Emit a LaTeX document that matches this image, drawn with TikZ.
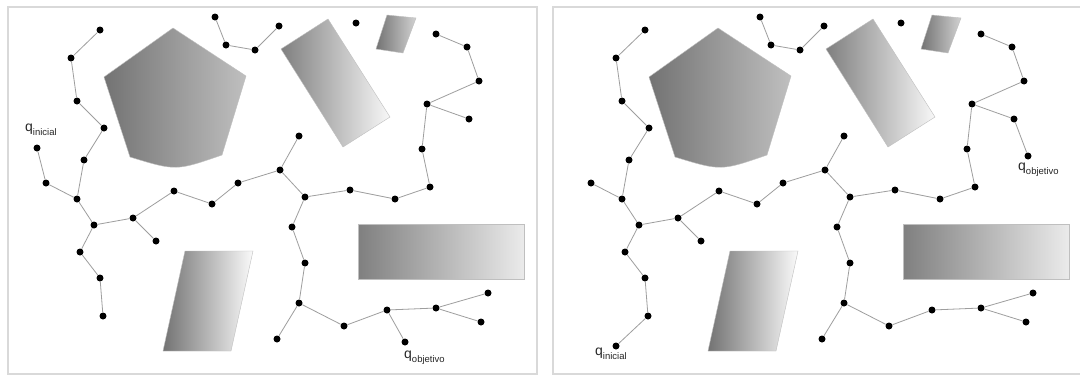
\documentclass[tikz,border=0pt]{standalone}
\usepackage{fontspec}
\setmainfont{Liberation Sans}
\newcommand\drawobstacles{%
  \shade[obst,left color=black!55,right color=black!25]
    (173,28) -- (246,76) -- (222,155) .. controls (176,171) .. (130,157) -- (104,77) -- cycle;
  \shade[obst,left color=black!50,right color=black!3]
    (281,49) -- (328,19) -- (390,117) -- (343,147) -- cycle;
  \shade[obst,left color=black!55,right color=black!18]
    (387,15) -- (416,18) -- (403,53) -- (376,49) -- cycle;
  \shade[obst,left color=black!55,right color=black!2]
    (185,251) -- (253,251) -- (231,351) -- (163,351) -- cycle;
  \shade[obst,left color=black!50,right color=black!8]
    (358,224) rectangle (524,279);
}
\newcommand\drawtree{%
  \foreach \n/\x/\y in {a1/100/30, a2/71/58, a3/77/101, a4/104/128, a5/84/160, a7/46/183,
     b1/77/199, b2/94/225, b3/133/218, b4/156/241, b5/80/252, b6/174/191, b7/212/204,
     b8/238/183, b9/280/170, b10/299/136, e1/100/278, e2/103/316,
     t1/215/17, t2/226/45, t3/255/50, t4/279/26, iso/356/23,
     c1/305/197, c2/350/190, c3/395/199, c4/430/187, c5/422/149,
     d1/436/34, d2/467/47, d3/479/81, d4/427/104, d5/469/119,
     c6/292/227, c7/305/263, c8/299/303, c9/277/339, c10/344/326, c11/387/310,
     c13/436/308, c14/488/293, c15/481/322}
     {\node[dot] (\n) at (\x,\y) {};}
  \foreach \u/\v in {a1/a2, a2/a3, a3/a4, a4/a5, a5/b1, a7/b1, b1/b2, b2/b3, b3/b4,
     b3/b6, b6/b7, b7/b8, b8/b9, b9/b10, b9/c1, b2/b5, b5/e1, e1/e2,
     t1/t2, t2/t3, t3/t4, c1/c2, c2/c3, c3/c4, c4/c5, c5/d4, d4/d3, d3/d2, d2/d1,
     d4/d5, c1/c6, c6/c7, c7/c8, c8/c9, c8/c10, c10/c11, c11/c13, c13/c14, c13/c15}
     {\draw[edge] (\u) -- (\v);}
}
\newcommand\qlabel[1]{{\fontsize{14}{14}\selectfont q}\raisebox{-4pt}{\fontsize{9.5}{9.5}\selectfont #1}}
\begin{document}
\begin{tikzpicture}[x=1pt,y=-1pt,
  dot/.style={circle,fill=black,inner sep=0pt,minimum size=7pt},
  edge/.style={draw=black!38,line width=0.8pt},
  frame/.style={draw=black!15,line width=1.5pt},
  obst/.style={draw=black!25,line width=0.4pt},
  lbl/.style={inner sep=0pt,anchor=base west,text=black!85}]
\useasboundingbox[fill=white] (0,0) rectangle (1080,378);
% left panel
\begin{scope}[name prefix=L-]
  \draw[frame] (8,7) rectangle (537,374);
  \drawobstacles
  \drawtree
  \node[dot] (a6) at (37,148) {};
  \node[dot] (c12) at (405,342) {};
  \draw[edge] (a6) -- (a7);
  \draw[edge] (c11) -- (c12);
  \node[lbl] (qi) at (25,131) {\qlabel{inicial}};
  \node[lbl] (qo) at (404,358) {\qlabel{objetivo}};
\end{scope}
% right panel
\begin{scope}[shift={(545,0)},name prefix=R-]
  \draw[frame] (8,7) rectangle (536,374);
  \drawobstacles
  \drawtree
  \node[dot] (s) at (71,346) {};
  \node[dot] (g) at (483,156) {};
  \draw[edge] (e2) -- (s);
  \draw[edge] (d5) -- (g);
  \node[lbl] (qi) at (50,355) {\qlabel{inicial}};
  \node[lbl] (qo) at (473,170) {\qlabel{objetivo}};
\end{scope}
\end{tikzpicture}
\end{document}
